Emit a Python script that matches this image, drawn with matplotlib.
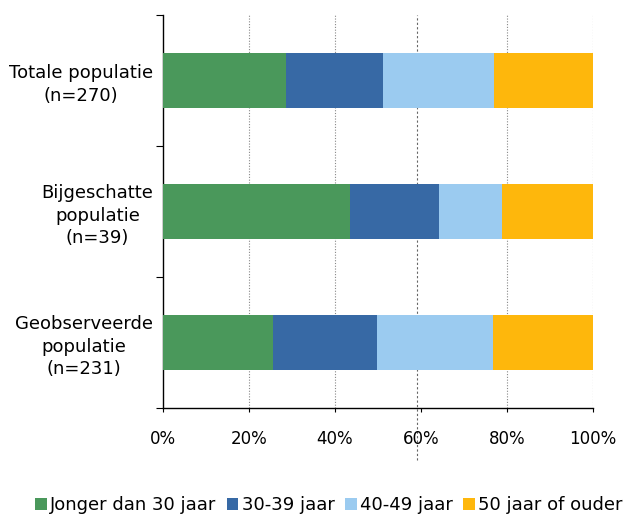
import matplotlib
matplotlib.use("Agg")
import matplotlib.pyplot as plt
import numpy as np

categories = ["Totale populatie\n(n=270)", "Bijgeschatte\npopulatie\n(n=39)", "Geobserveerde\npopulatie\n(n=231)"]
series_names = ["Jonger dan 30 jaar", "30-39 jaar", "40-49 jaar", "50 jaar of ouder"]
jonger30 = [28.6, 43.4, 25.6]
j30_39 = [22.6, 20.7, 24.2]
j40_49 = [25.8, 14.8, 27.0]
j50plus = [23.0, 21.1, 23.2]
colors = ["#4A985B", "#3769A5", "#9BCBF0", "#FEB70C"]
xticks = [0, 20, 40, 60, 80, 100]
xticklabels = ["0%", "20%", "40%", "60%", "80%", "100%"]

plt.rcParams['font.family'] = ['DejaVu Sans']

fig = plt.figure(figsize=(6.23, 5.16), dpi=100)
ax = fig.add_axes([163/623, 1-408/516, 430/623, 393/516])

y = np.arange(len(categories))
left = np.zeros(len(categories))
for vals, name, c in zip([jonger30, j30_39, j40_49, j50plus], series_names, colors):
    ax.barh(y, vals, left=left, height=0.42, color=c, label=name, zorder=3)
    left += np.array(vals)

ax.set_xlim(0, 100)
ax.set_ylim(2.5, -0.5)

# gridlines
for g in [20, 40, 80, 100]:
    ax.axvline(g, color="#888888", linestyle=(0, (1, 1.5)), linewidth=0.8, zorder=1)
ax.axvline(59.1, ymin=-0.132, ymax=1, color="#666666", linestyle=(0, (2, 2)), linewidth=0.8,
           zorder=1, clip_on=False)

ax.spines['top'].set_visible(False)
ax.spines['right'].set_visible(False)
ax.spines['left'].set_linewidth(1.0)
ax.spines['bottom'].set_linewidth(1.0)

ax.set_xticks(xticks)
ax.set_xticklabels(xticklabels, fontsize=12)
ax.tick_params(axis='x', direction='out', length=3, width=0.8, pad=13)

ax.set_yticks([-0.5, 0.5, 1.5, 2.5])
ax.set_yticklabels([])
ax.tick_params(axis='y', which='major', direction='out', length=5, width=0.8)
ax.set_yticks(y, minor=True)
ax.set_yticklabels(categories, minor=True, fontsize=13, multialignment='center', linespacing=1.3)
ax.tick_params(axis='y', which='minor', length=0, pad=7)

handles, labels = ax.get_legend_handles_labels()
fig.legend(handles, labels, ncol=4, loc='center left', bbox_to_anchor=(35/623, 1-505/516),
           frameon=False, fontsize=13, handlelength=0.65, handleheight=0.65,
           handletextpad=0.2, columnspacing=0.55, borderaxespad=0, borderpad=0)

fig.savefig("out.png", dpi=100)
